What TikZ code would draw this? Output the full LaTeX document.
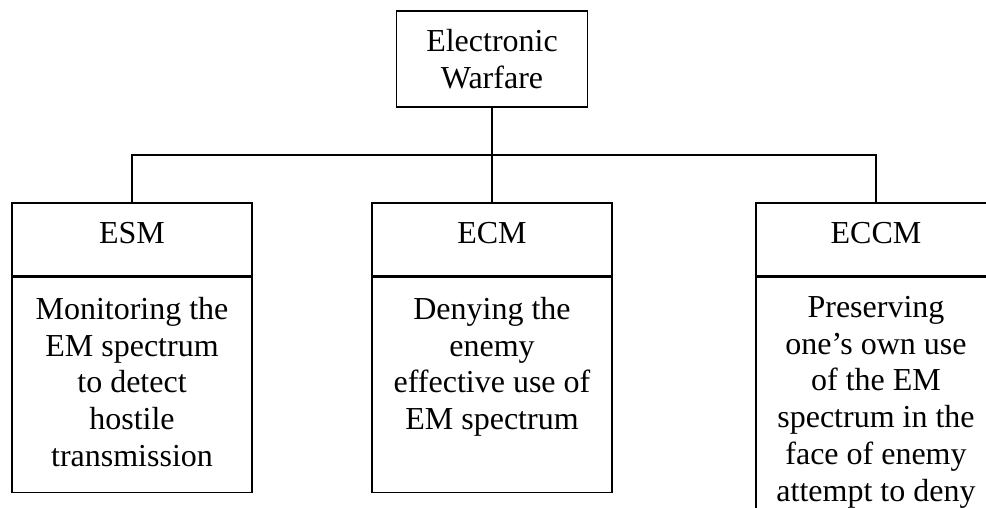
\documentclass[tikz,border=0pt]{standalone}
\usepackage{fontspec}
\setmainfont{Liberation Serif}
\usetikzlibrary{positioning}
\tikzset{
  hdr/.style={draw,line width=0.7pt,minimum width=120pt,minimum height=36.5pt,text depth=6.5pt,inner sep=0pt},
  bodybox/.style={draw,line width=0.7pt,minimum width=120pt,minimum height=107.5pt,inner sep=0pt},
  desc/.style={align=center,inner sep=0pt},
  wire/.style={line width=0.7pt}
}
\begin{document}
\begin{tikzpicture}[x=0.5pt,y=-0.5pt,font=\fontsize{16}{18.4}\selectfont]
         \useasboundingbox (0,0) rectangle (986,508);
         \clip (0,0) rectangle (986,508);
         \node[draw,line width=0.7pt,minimum width=95.5pt,minimum height=48pt,align=center,inner sep=0pt]
         (ew) at (492,59) {Electronic\\Warfare};
         \node[hdr] (esm) at (132,239.5) {ESM};
         \node[hdr] (ecm) at (492,239.5) {ECM};
         \node[hdr] (eccm) at (876,239.5) {ECCM};
         \node[bodybox,below=0pt of esm] (esmbody) {};
         \node[bodybox,below=0pt of ecm] (ecmbody) {};
         \node[bodybox,minimum height=130pt,below=0pt of eccm] (eccmbody) {};
         \node[desc,below=10pt of esm] (esmtext)
         {Monitoring the\\EM spectrum\\to detect\\hostile\\transmission};
         \node[desc,below=10pt of ecm] (ecmtext)
         {Denying the\\enemy\\effective use of\\EM spectrum};
         \node[desc,below=9.5pt of eccm] (eccmtext)
         {Preserving\\one’s own use\\of the EM\\spectrum in the\\face of enemy\\attempt to deny};
         \coordinate (bus) at (492,155);
         \draw[wire] (ew.south) -- (bus) -- (ecm.north);
         \draw[wire] (esm.north) |- (bus) -| (eccm.north);
   \end{tikzpicture}
\end{document}
